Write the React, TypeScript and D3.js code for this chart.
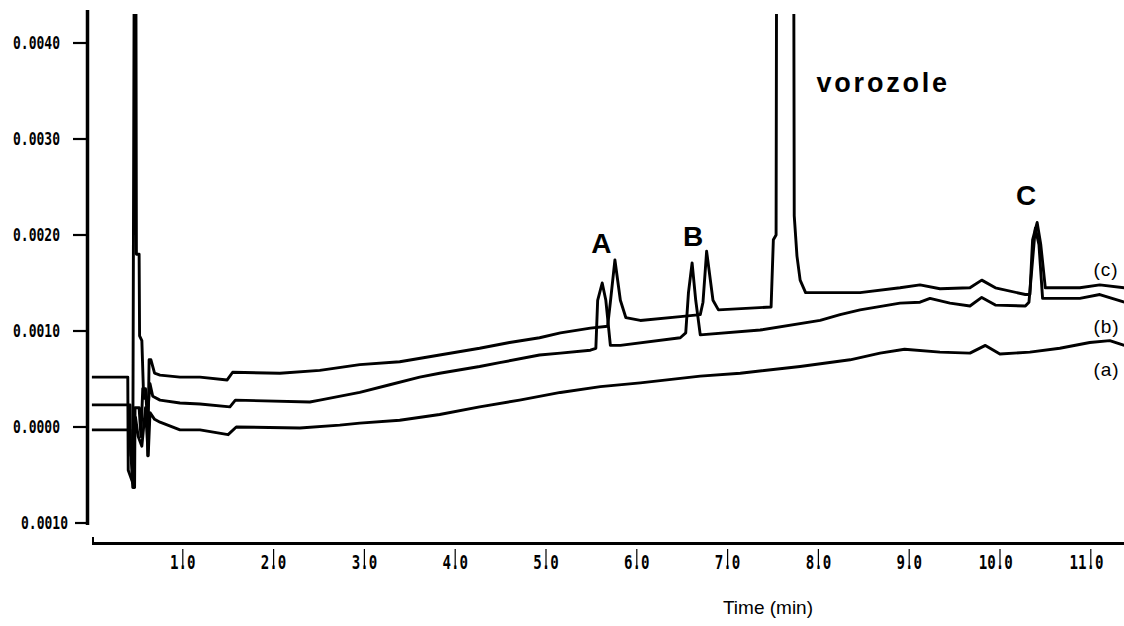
import React from "react";
import * as d3 from "d3";

// ---- data (time in min, absorbance in AU) ----
const traceA: [number, number][] = [
  [0.01, -0.00003], [0.43, -0.00003], [0.44, -0.0003], [0.47, -0.0003], [0.49, 0.0001],
  [0.52, -0.0001], [0.56, -0.0002], [0.6, 0.0002], [0.63, -0.0003], [0.65, 0.00015],
  [0.7, 0.00008], [0.76, 0.00005], [0.98, -0.00003], [1.2, -0.00003], [1.51, -0.00008],
  [1.6, 0.0], [2.3, -0.00001], [2.74, 0.00002], [2.96, 0.00004], [3.4, 0.00007],
  [3.84, 0.00013], [4.28, 0.00021], [4.72, 0.00028], [5.17, 0.00036], [5.61, 0.00042],
  [6.05, 0.00046], [6.71, 0.00053], [7.15, 0.00056], [7.81, 0.00063], [8.36, 0.0007],
  [8.69, 0.00077], [8.96, 0.00081], [9.35, 0.00078], [9.68, 0.00077], [9.85, 0.00085],
  [10.01, 0.00076], [10.34, 0.00078], [10.67, 0.00082], [11.0, 0.00088], [11.22, 0.0009],
  [11.38, 0.00085],
];

const traceB: [number, number][] = [
  [0.01, 0.00023], [0.43, 0.00023], [0.435, -0.0002], [0.46, -0.00063], [0.48, -0.00063],
  [0.485, 0.0002], [0.53, 0.0002], [0.55, -0.0001], [0.57, 0.0004], [0.6, 0.0004],
  [0.62, 0.0001], [0.65, 0.00045], [0.68, 0.00032], [0.76, 0.00028], [0.98, 0.00025],
  [1.2, 0.00024], [1.53, 0.00021], [1.59, 0.00028], [2.41, 0.00026], [2.52, 0.00028],
  [2.96, 0.00036], [3.29, 0.00044], [3.62, 0.00052], [3.84, 0.00056], [4.28, 0.00063],
  [4.5, 0.00067], [4.94, 0.00075], [5.17, 0.00077], [5.5, 0.0008], [5.56, 0.00082],
  [5.58, 0.00132], [5.63, 0.0015], [5.67, 0.00132], [5.72, 0.00085], [5.83, 0.00085],
  [6.49, 0.00093], [6.55, 0.00098], [6.58, 0.0014], [6.62, 0.00171], [6.66, 0.00132],
  [6.71, 0.00096], [7.37, 0.00101], [8.03, 0.00111], [8.25, 0.00117], [8.47, 0.00122],
  [8.91, 0.00129], [9.13, 0.0013], [9.24, 0.00134], [9.46, 0.00129], [9.68, 0.00126],
  [9.81, 0.00135], [9.96, 0.00127], [10.29, 0.00126], [10.33, 0.0013], [10.4, 0.00207],
  [10.44, 0.0019], [10.48, 0.00134], [10.89, 0.00134], [11.11, 0.00138], [11.38, 0.0013],
];

const traceC: [number, number][] = [
  [0.01, 0.00052], [0.405, 0.00052], [0.41, -0.00045], [0.46, -0.00058], [0.475, 0.0046],
  [0.495, 0.0046], [0.5, 0.0018], [0.53, 0.0018], [0.535, 0.00095], [0.56, 0.0009],
  [0.58, 0.0003], [0.62, 0.0003], [0.625, -0.0003], [0.64, 0.0007], [0.66, 0.0007],
  [0.7, 0.00056], [0.76, 0.00054], [0.98, 0.00052], [1.2, 0.00052], [1.5, 0.00049],
  [1.56, 0.00057], [2.08, 0.00056], [2.52, 0.00059], [2.96, 0.00065], [3.4, 0.00068],
  [3.84, 0.00075], [4.28, 0.00082], [4.61, 0.00088], [4.94, 0.00093], [5.17, 0.00098],
  [5.5, 0.00103], [5.69, 0.00105], [5.72, 0.0013], [5.77, 0.00174], [5.83, 0.00132],
  [5.89, 0.00114], [6.05, 0.00111], [6.49, 0.00115], [6.71, 0.00117], [6.74, 0.0013],
  [6.78, 0.00183], [6.85, 0.00132], [6.91, 0.00122], [7.49, 0.00125], [7.515, 0.00195],
  [7.545, 0.002], [7.55, 0.0046], [7.74, 0.0046], [7.745, 0.0022], [7.775, 0.00178],
  [7.81, 0.00153], [7.87, 0.0014], [8.47, 0.0014], [8.91, 0.00145], [9.13, 0.00148],
  [9.35, 0.00144], [9.68, 0.00145], [9.81, 0.00153], [9.96, 0.00145], [10.29, 0.00138],
  [10.34, 0.00138], [10.37, 0.00195], [10.42, 0.00213], [10.46, 0.0019], [10.51, 0.00145],
  [10.89, 0.00145], [11.11, 0.00148], [11.38, 0.00145],
];

const yTicks = [0.004, 0.003, 0.002, 0.001, 0.0, -0.001];
const yTickLabels = ["0.0040", "0.0030", "0.0020", "0.0010", "0.0000", "0.0010"];
const xTicks = [1, 2, 3, 4, 5, 6, 7, 8, 9, 10, 11];
const xTickLabels = ["1.0", "2.0", "3.0", "4.0", "5.0", "6.0", "7.0", "8.0", "9.0", "10.0", "11.0"];

const seriesLabels = [
  { text: "(c)", t: 11.04, v: 0.00157 },
  { text: "(b)", t: 11.04, v: 0.00098 },
  { text: "(a)", t: 11.04, v: 0.00053 },
];
const peakLabels = [
  { text: "A", t: 5.62, v: 0.00181 },
  { text: "B", t: 6.63, v: 0.00189 },
  { text: "C", t: 10.3, v: 0.00231 },
];
const mainLabel = { text: "vorozole", t: 7.99, v: 0.00349 };

export default function App() {
  const W = 1124, H = 626;
  const x = d3.scaleLinear().domain([0, 11]).range([91, 91 + 11 * 90.8]);
  const y = d3.scaleLinear().domain([-0.001, 0.004]).range([523, 43]);
  const line = d3.line<[number, number]>().x((d) => x(d[0])).y((d) => y(d[1]));
  const mono = "'DejaVu Sans Mono', monospace";
  const sans = "'Liberation Sans', Arial, sans-serif";
  const axisY = 543.5;

  return (
    <svg width={W} height={H} style={{ position: "absolute", left: 0, top: 0, background: "#fff" }}>
      <rect width={W} height={H} fill="#fff" />
      <defs>
        <clipPath id="plotclip">
          <rect x={89} y={14} width={W - 89} height={530} />
        </clipPath>
      </defs>
      {/* y axis */}
      <line x1={87.5} x2={87.5} y1={10} y2={525} stroke="#000" strokeWidth={3.5} />
      {yTicks.map((v, i) => {
        const last = i === yTicks.length - 1;
        const len = 47;
        const end = last ? 68 : 60;
        return (
          <g key={i}>
            <line x1={last ? 75 : 73} x2={87} y1={y(v)} y2={y(v)} stroke="#000" strokeWidth={2.2} />
            <text
              x={end - len}
              y={y(v) + 6}
              fontFamily={mono}
              fontWeight="bold"
              fontSize={17.5}
              textLength={len}
              lengthAdjust="spacingAndGlyphs"
              fill="#000"
            >
              {yTickLabels[i]}
            </text>
          </g>
        );
      })}
      {/* x axis */}
      <line x1={92} x2={W} y1={axisY} y2={axisY} stroke="#000" strokeWidth={3} />
      <line x1={93} x2={93} y1={537} y2={544} stroke="#000" strokeWidth={2} />
      {xTicks.map((t, i) => {
        const lab = xTickLabels[i];
        const pitch = 8.5;
        const dot = lab.indexOf(".");
        const tx = x(t) + 1;
        const start = tx - (dot + 0.5) * pitch;
        return (
          <g key={t}>
            <line x1={tx} x2={tx} y1={549} y2={566} stroke="#000" strokeWidth={1.2} />
            <text
              x={start}
              y={569}
              fontFamily={mono}
              fontWeight="bold"
              fontSize={19}
              textLength={lab.length * pitch}
              lengthAdjust="spacingAndGlyphs"
              fill="#000"
            >
              {lab}
            </text>
          </g>
        );
      })}
      <text x={768} y={614} textAnchor="middle" fontFamily={sans} fontSize={19} fill="#000">
        Time (min)
      </text>
      {/* traces */}
      <g clipPath="url(#plotclip)" fill="none" stroke="#000" strokeWidth={2.9} strokeLinejoin="round">
        <path d={line(traceA) || ""} />
        <path d={line(traceB) || ""} />
        <path d={line(traceC) || ""} />
      </g>
      {/* labels */}
      {seriesLabels.map((s) => (
        <text key={s.text} x={x(s.t)} y={y(s.v)} fontFamily={sans} fontSize={19} letterSpacing={1} fill="#000">
          {s.text}
        </text>
      ))}
      {peakLabels.map((s) => (
        <text
          key={s.text}
          x={x(s.t)}
          y={y(s.v)}
          textAnchor="middle"
          fontFamily={sans}
          fontWeight="bold"
          fontSize={28}
          fill="#000"
        >
          {s.text}
        </text>
      ))}
      <text
        x={x(mainLabel.t)}
        y={y(mainLabel.v)}
        fontFamily={sans}
        fontWeight="bold"
        fontSize={27}
        letterSpacing={2.8}
        fill="#000"
      >
        {mainLabel.text}
      </text>
    </svg>
  );
}
